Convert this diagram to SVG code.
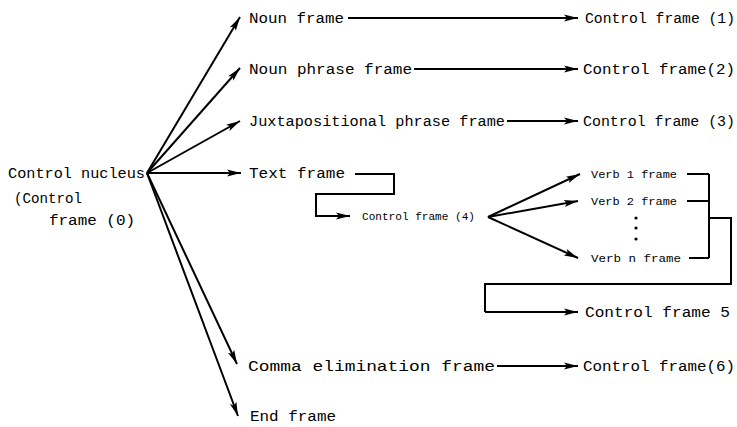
<svg xmlns="http://www.w3.org/2000/svg" width="737" height="427" viewBox="0 0 737 427">
<defs>
<marker id="ah" markerUnits="userSpaceOnUse" markerWidth="16" markerHeight="10" viewBox="-14 -5 16 10" refX="0" refY="0" orient="auto">
<path d="M-14,-3.5 L0,0 L-14,3.5 L-11,0 z" fill="#000"/>
</marker>
<style>
text{font-family:"Liberation Mono","DejaVu Sans Mono",monospace;fill:#000;font-size:14px}
.s{font-size:11px}
.c{stroke:#000;stroke-width:2;fill:none}
.a{marker-end:url(#ah)}
</style>
</defs>
<rect width="737" height="427" fill="#fff"/>
<g id="connectors">
<path class="c a" d="M147,173 L240,17"/>
<path class="c a" d="M147,173 L240,68"/>
<path class="c a" d="M147,173 L240,121"/>
<path class="c a" d="M147,173 L241,173"/>
<path class="c a" d="M147,173 L237,364"/>
<path class="c a" d="M147,173 L238,416"/>
<path class="c a" d="M348,18 L578,18"/>
<path class="c a" d="M414,69 L578,69"/>
<path class="c a" d="M507,121 L578,121"/>
<path class="c a" d="M497,366 L578,366"/>
<path class="c a" d="M355,174 L394,174 L394,194 L316,194 L316,216 L350,216"/>
<path class="c a" d="M488,217 L580,174"/>
<path class="c a" d="M488,217 L578,201"/>
<path class="c a" d="M488,217 L578,258"/>
<path class="c" d="M687,174 L709,174 M687,201 L709,201 M689,258 L709,258 M709,174 L709,258 M709,218 L731,218 L731,284 L485,284 L485,312"/>
<path class="c a" d="M485,312 L578,312"/>
<circle cx="636" cy="218" r="1.6" fill="#000"/>
<circle cx="636" cy="228" r="1.6" fill="#000"/>
<circle cx="636" cy="239" r="1.6" fill="#000"/>
</g>
<g id="control-nucleus">
<text x="8" y="178" textLength="137" lengthAdjust="spacingAndGlyphs">Control nucleus</text>
<text x="14" y="203" textLength="68" lengthAdjust="spacingAndGlyphs">(Control</text>
<text x="49" y="225" textLength="86" lengthAdjust="spacingAndGlyphs">frame (0)</text>
</g>
<g id="noun-frame"><text x="249" y="23" textLength="95" lengthAdjust="spacingAndGlyphs">Noun frame</text></g>
<g id="control-frame-1"><text x="585" y="23" textLength="150" lengthAdjust="spacingAndGlyphs">Control frame (1)</text></g>
<g id="noun-phrase-frame"><text x="249" y="74" textLength="163" lengthAdjust="spacingAndGlyphs">Noun phrase frame</text></g>
<g id="control-frame-2"><text x="583" y="74" textLength="152" lengthAdjust="spacingAndGlyphs">Control frame(2)</text></g>
<g id="juxtapositional-phrase-frame"><text x="249" y="126" textLength="256" lengthAdjust="spacingAndGlyphs">Juxtapositional phrase frame</text></g>
<g id="control-frame-3"><text x="583" y="126" textLength="152" lengthAdjust="spacingAndGlyphs">Control frame (3)</text></g>
<g id="text-frame"><text x="249" y="178" textLength="96" lengthAdjust="spacingAndGlyphs">Text frame</text></g>
<g id="control-frame-4"><text class="s" x="362" y="220" textLength="113" lengthAdjust="spacingAndGlyphs">Control frame (4)</text></g>
<g id="verb-1-frame"><text class="s" x="591" y="178" textLength="86" lengthAdjust="spacingAndGlyphs">Verb 1 frame</text></g>
<g id="verb-2-frame"><text class="s" x="591" y="205" textLength="86" lengthAdjust="spacingAndGlyphs">Verb 2 frame</text></g>
<g id="verb-n-frame"><text class="s" x="591" y="262" textLength="90" lengthAdjust="spacingAndGlyphs">Verb n frame</text></g>
<g id="control-frame-5"><text x="585" y="317" textLength="145" lengthAdjust="spacingAndGlyphs">Control frame 5</text></g>
<g id="comma-elimination-frame"><text x="248" y="371" textLength="247" lengthAdjust="spacingAndGlyphs">Comma elimination frame</text></g>
<g id="control-frame-6"><text x="583" y="371" textLength="152" lengthAdjust="spacingAndGlyphs">Control frame(6)</text></g>
<g id="end-frame"><text x="250" y="421" textLength="86" lengthAdjust="spacingAndGlyphs">End frame</text></g>
</svg>
